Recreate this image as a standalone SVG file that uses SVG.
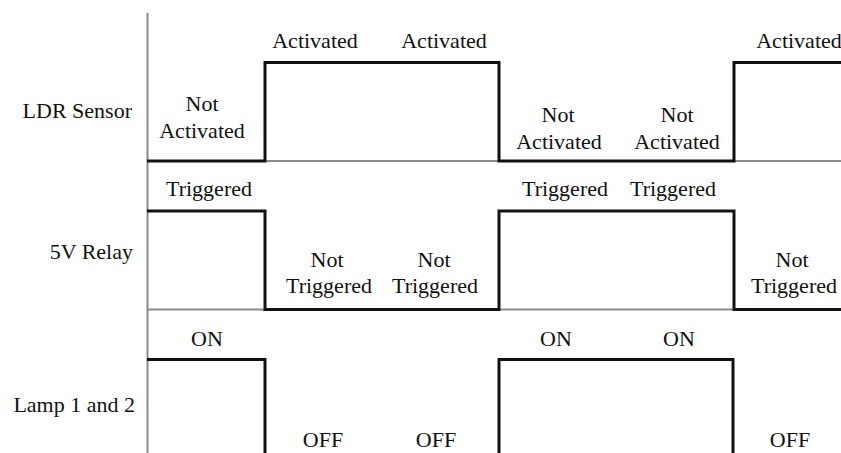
<svg xmlns="http://www.w3.org/2000/svg" width="841" height="453" viewBox="0 0 841 453">
<style>
.t{font-size:22px;fill:#111;text-anchor:middle}
.lbl{text-anchor:end}
.axis{stroke:#8a8a8a;stroke-width:2;fill:none}
.sig{stroke:#111;stroke-width:3;fill:none;stroke-linejoin:miter}
</style>
<rect width="841" height="453" fill="#fff"/>
<g id="axes">
<line class="axis" x1="147.5" y1="13" x2="147.5" y2="453"/>
<line class="axis" x1="147" y1="161" x2="841" y2="161"/>
<line class="axis" x1="147" y1="309.5" x2="841" y2="309.5"/>
</g>
<g id="connectors">
<polyline id="ldr-signal" class="sig" points="147,161 265,161 265,62.5 499,62.5 499,161 734,161 734,62.5 841,62.5"/>
<polyline id="relay-signal" class="sig" points="147,211 265,211 265,309.5 499,309.5 499,211 734,211 734,309.5 841,309.5"/>
<polyline id="lamp-signal-1" class="sig" points="147,359.5 265,359.5 265,455"/>
<polyline id="lamp-signal-2" class="sig" points="499,455 499,359.5 733,359.5 733,455"/>
</g>
<g font-family="Liberation Serif, serif">
<g id="ldr-sensor">
<text class="t lbl" x="132" y="118">LDR Sensor</text>
<text class="t" x="202" y="111">Not</text>
<text class="t" x="202" y="138">Activated</text>
<text class="t" x="315" y="48">Activated</text>
<text class="t" x="444" y="48">Activated</text>
<text class="t" x="558" y="122">Not</text>
<text class="t" x="559" y="149">Activated</text>
<text class="t" x="677" y="122">Not</text>
<text class="t" x="677" y="149">Activated</text>
<text class="t" x="799" y="48">Activated</text>
</g>
<g id="relay">
<text class="t lbl" x="133" y="259">5V Relay</text>
<text class="t" x="209" y="196">Triggered</text>
<text class="t" x="327" y="267">Not</text>
<text class="t" x="329" y="293">Triggered</text>
<text class="t" x="434" y="267">Not</text>
<text class="t" x="435" y="293">Triggered</text>
<text class="t" x="565" y="196">Triggered</text>
<text class="t" x="673" y="196">Triggered</text>
<text class="t" x="792" y="267">Not</text>
<text class="t" x="794" y="293">Triggered</text>
</g>
<g id="lamp">
<text class="t lbl" x="135" y="412">Lamp 1 and 2</text>
<text class="t" x="207" y="346">ON</text>
<text class="t" x="556" y="346">ON</text>
<text class="t" x="679" y="346">ON</text>
<text class="t" x="323" y="447">OFF</text>
<text class="t" x="436" y="447">OFF</text>
<text class="t" x="790" y="447">OFF</text>
</g>
</g>
</svg>
